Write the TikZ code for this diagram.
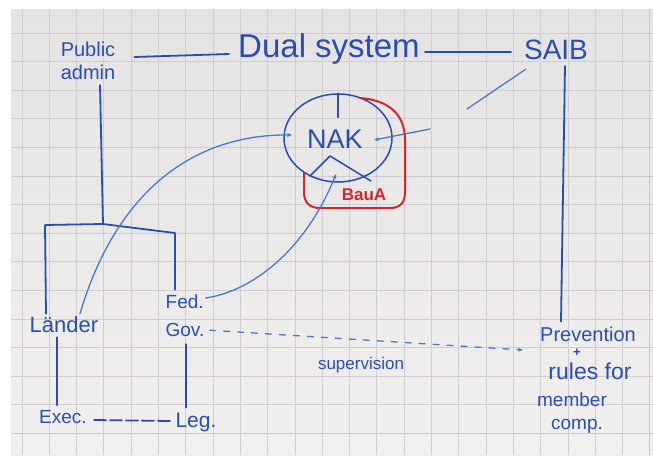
\documentclass[tikz,border=0pt]{standalone}
\usepackage{fontspec}
\setmainfont{Liberation Sans}
\usetikzlibrary{arrows.meta,calc,shapes.geometric}
\definecolor{paperT}{HTML}{E5E2E3}
\definecolor{paperB}{HTML}{F2F0EE}
\definecolor{gridc}{HTML}{CDCDD2}
\definecolor{ink}{HTML}{2B4DAE}
\definecolor{inkl}{HTML}{4A7AC8}
\definecolor{redink}{HTML}{D0282E}
\newcommand{\fs}[1]{\fontsize{#1}{#1}\selectfont}
\begin{document}
\begin{tikzpicture}[x=1pt,y=-1pt,
  lbl/.style={text=ink, inner sep=1pt},
  pen/.style={draw=ink, line width=1.8pt, line cap=round, line join=round},
  thinpen/.style={draw=inkl, line width=1.3pt, line cap=round},
  redpen/.style={draw=redink, line width=2pt, line cap=round},
  tipa/.style={-{Stealth[length=5pt,width=4pt]}}
]
\useasboundingbox (0,0) rectangle (653,455);
\fill[white] (0,0) rectangle (653,455);
\shade[top color=paperT, bottom color=paperB] (11,9) rectangle (653,455);
\begin{scope}
\clip (11,9) rectangle (653,455);
\foreach \i in {0,...,23} \draw[gridc, line width=0.9pt] ({22+27.3*\i},9) -- ({22+27.3*\i},455);
\foreach \j in {0,...,15} \draw[gridc, line width=0.9pt] (11,{33+28.6*\j}) -- (653,{33+28.6*\j});
\end{scope}

% labels
\node[lbl, font=\fontsize{20}{23}\selectfont, align=left] (pub) at (88,61) {Public\\admin};
\node[lbl, font=\fs{33}] (dual) at (329,49) {Dual system};
\node[lbl, font=\fs{28}] (saib) at (556,50) {SAIB};
\node[lbl, font=\fs{27}] (nak) at (335,139) {NAK};
\node[ellipse, draw=ink, line width=1.5pt, minimum width=108pt, minimum height=88pt] (circ) at (338,138) {};
\node[text=redink, inner sep=1pt, font=\bfseries\fs{17}] (baua) at (364,195) {BauA};
\node[lbl, font=\fs{22}] (laender) at (64,325) {Länder};
\node[lbl, font=\fontsize{19}{28}\selectfont, align=left] (fed) at (185,316) {Fed.\\Gov.};
\node[lbl, font=\fs{19}] (exec) at (63,417) {Exec.};
\node[lbl, font=\fs{21}] (leg) at (196,422) {Leg.};
\node[lbl, font=\fs{17}] (sup) at (361,365) {supervision};
\node[lbl, font=\fs{20}] (prev) at (588,334) {Prevention};
\node[lbl, font=\bfseries\fs{13}, inner sep=0pt] (plus) at (577,353) {+};
\node[lbl, font=\fs{23}] (rules) at (590,371) {rules for};
\node[lbl, font=\fs{19}] (member) at (572,400) {member};
\node[lbl, font=\fs{19}] (comp) at (577,426) {comp.};

% top line
\draw[pen] ($(pub.east)+(18,-4)$) -- ($(dual.west)+(-8,5)$);
\draw[pen] ($(dual.east)+(4,3)$) -- ($(saib.west)+(-12,2)$);
\draw[pen] ($(saib.south)+(9,5)$) -- ($(prev.north)+(-27,-4)$);

% SAIB towards NAK
\coordinate (saibend) at (467,109);
\coordinate (rin) at (430,129);
\draw[thinpen] ($(saib.south west)+(3,8)$) -- (saibend);
\draw[thinpen, tipa] (rin) -- ($(nak.east)+(10,1)$);

% inside NAK circle
\coordinate (vap) at (330,156);
\draw[pen, line width=1.5pt] (circ.north) -- ++(0,24);
\draw[pen, line width=1.5pt] (310,176) -- (vap) -- (371,181);

% red BauA outline
\draw[redpen] (360,98) .. controls (386,100) and (405,112) .. (405,140) -- (405,192)
  .. controls (405,203) and (400,208) .. (390,208) -- (320,208)
  .. controls (310,208) and (304,203) .. (304,192) -- (304,173);

% tree
\coordinate (j) at (103,224);
\draw[pen] ($(pub.south)+(12,4)$) -- (j);
\draw[pen] (j) -- ++(-58,1) -- ($(laender.north)+(-18,-2)$);
\draw[pen] (j) -- ++(72,9) -- ($(fed.north)+(-10,-4)$);
\draw[pen] ($(laender.south)+(-7,3)$) -- ($(exec.north)+(-6,-4)$);
\draw[pen] ($(fed.south)+(1,6)$) -- ($(leg.north)+(-10,-4)$);
\draw[pen, dash pattern=on 12pt off 4pt] ($(exec.east)+(6,3)$) -- ($(leg.west)+(-3,-1)$);

% curves to NAK
\draw[thinpen, tipa] ($(laender.north)+(16,-2)$) .. controls (115,195) and (190,134) .. ($(nak.west)+(-14,-4)$);
\draw[thinpen, tipa] ($(fed.east)+(0,-18)$) .. controls (260,290) and (310,240) .. (336,174);

% supervision
\draw[thinpen, dash pattern=on 6pt off 8pt, tipa] ($(fed.south east)+(4,-8)$) -- ($(prev.west)+(-16,16)$);
\end{tikzpicture}
\end{document}
